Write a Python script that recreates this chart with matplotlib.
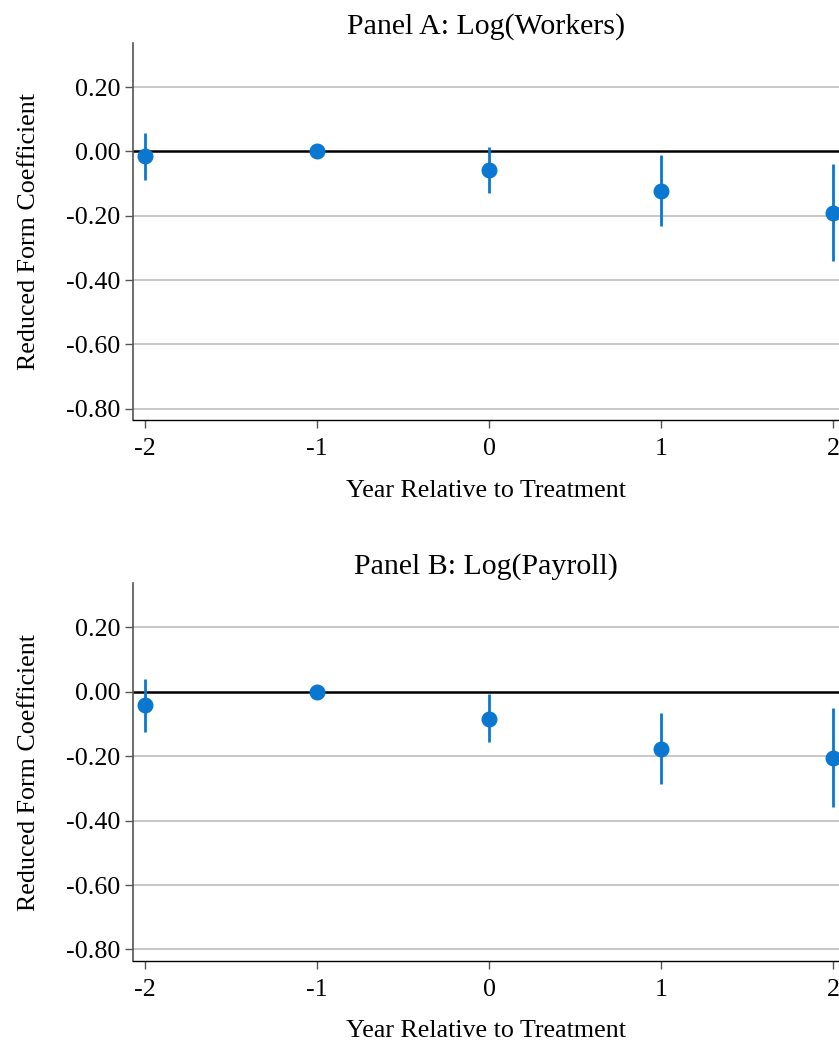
import matplotlib
matplotlib.use("Agg")
import matplotlib.pyplot as plt

# event-study coefficients with 95% confidence intervals
years = [-2, -1, 0, 1, 2]

workers_coef = [-0.015, 0.0, -0.058, -0.122, -0.191]
workers_lo = [-0.088, 0.0, -0.130, -0.232, -0.341]
workers_hi = [0.057, 0.0, 0.013, -0.012, -0.038]

payroll_coef = [-0.042, 0.0, -0.083, -0.177, -0.205]
payroll_lo = [-0.124, 0.0, -0.157, -0.286, -0.358]
payroll_hi = [0.040, 0.0, -0.008, -0.067, -0.051]

panel_titles = ["Panel A: Log(Workers)", "Panel B: Log(Payroll)"]
yticks = [0.2, 0.0, -0.2, -0.4, -0.6, -0.8]

plt.rcParams['font.family'] = ['Liberation Serif', 'DejaVu Serif']
blue = '#0a78d1'

fig = plt.figure(figsize=(8.39, 10.42), dpi=100)
ax1 = fig.add_axes([0.1585, 0.5969, 0.8415, 0.3618])
ax2 = fig.add_axes([0.1585, 0.0780, 0.8415, 0.3622])

panels = [
    (ax1, workers_coef, workers_lo, workers_hi),
    (ax2, payroll_coef, payroll_lo, payroll_hi),
]

for (ax, coef, lo, hi), title in zip(panels, panel_titles):
    for y in yticks:
        if y != 0.0:
            ax.axhline(y, color='#bdbdbd', lw=1.2, zorder=0)
    ax.axhline(0, color='black', lw=1.8, zorder=1)
    # confidence intervals (skip the omitted year)
    for x, c, l, h in zip(years, coef, lo, hi):
        if l != h:
            ax.vlines(x, l, h, color=blue, lw=2.0, zorder=2)
    ax.plot(years, coef, 'o', color=blue, ms=10.5, zorder=3, linestyle='none')

    ax.set_xlim(-2.07, 2.035)
    ax.set_ylim(-0.835, 0.337)
    ax.set_xticks(years)
    ax.set_xticklabels([str(y) for y in years])
    ax.set_yticks(yticks)
    ax.set_yticklabels([f"{y:.2f}" for y in yticks])

    ax.spines['top'].set_visible(False)
    ax.spines['right'].set_visible(False)
    ax.spines['left'].set_color('#555555')
    ax.spines['left'].set_linewidth(1.2)
    ax.spines['bottom'].set_color('black')
    ax.spines['bottom'].set_linewidth(1.0)
    ax.tick_params(axis='y', length=6, width=1, color='#555555', pad=3, labelsize=18.7)
    ax.tick_params(axis='x', length=6, width=1, color='#555555', pad=7, labelsize=18.7)

    ax.set_title(title, fontsize=21.5, pad=7)
    ax.set_xlabel("Year Relative to Treatment", fontsize=18.7, labelpad=14)
    ax.set_ylabel("Reduced Form Coefficient", fontsize=18.7, labelpad=19)

fig.savefig("out.png", dpi=100)
